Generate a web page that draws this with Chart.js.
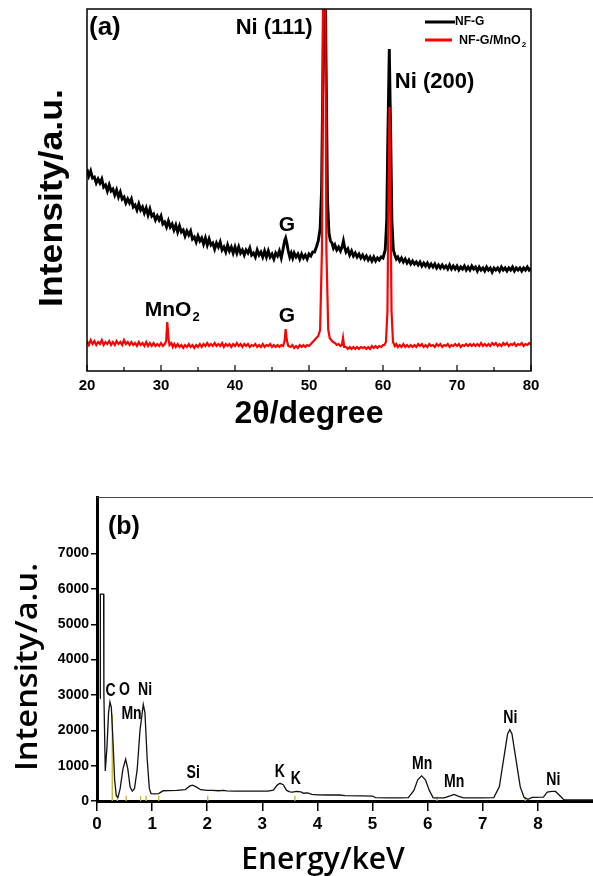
<!DOCTYPE html>
<html><head><meta charset="utf-8">
<script src="https://cdn.jsdelivr.net/npm/chart.js@4.4.0/dist/chart.umd.min.js"></script>
<style>
html,body{margin:0;padding:0;background:#fff;width:593px;height:876px;overflow:hidden}
#wa{position:absolute;left:0;top:0;width:593px;height:460px}
#wb{position:absolute;left:0;top:460px;width:593px;height:416px}
</style></head><body>
<div id="wa"><canvas id="ca"></canvas></div>
<div id="wb"><canvas id="cb"></canvas></div>
<script>
// ---------- (a) XRD data ----------
const xrdTicks = [20, 30, 40, 50, 60, 70, 80];
const ngAngle = [
  20,20.25,20.5,20.75,21,21.25,21.5,21.75,22,22.25,22.5,22.75,23,23.25,23.5,23.75,24,24.25,24.5,24.75,
  25,25.25,25.5,25.75,26,26.25,26.5,26.75,27,27.25,27.5,27.75,28,28.25,28.5,28.75,29,29.25,29.5,29.75,
  30,30.25,30.5,30.75,31,31.25,31.5,31.75,32,32.25,32.5,32.75,33,33.25,33.5,33.75,34,34.25,34.5,34.75,
  35,35.25,35.5,35.75,36,36.25,36.5,36.75,37,37.25,37.5,37.75,38,38.25,38.5,38.75,39,39.25,39.5,39.75,
  40,40.25,40.5,40.75,41,41.25,41.5,41.75,42,42.25,42.5,42.75,43,43.25,43.5,43.75,44,44.25,44.5,44.75,
  45,45.25,45.5,45.75,
  46,46.25,46.5,46.7,46.85,47,47.2,47.4,47.6,47.8,
  48,48.25,48.5,48.75,49,49.25,49.5,49.75,50,50.25,50.5,50.75,
  51,51.25,51.5,51.7,51.9,52.1,52.3,52.5,52.7,52.9,53.1,53.3,53.5,53.75,
  54,54.25,54.5,54.65,54.8,55,55.25,55.5,55.75,
  56,56.25,56.5,56.75,57,57.25,57.5,57.75,58,58.25,58.5,58.75,59,59.25,59.5,59.75,
  60,60.15,60.3,60.5,60.65,60.85,61.05,61.2,61.4,61.6,61.8,
  62,62.25,62.5,62.75,63,63.25,63.5,63.75,64,64.25,64.5,64.75,65,65.25,65.5,65.75,66,66.25,66.5,66.75,
  67,67.25,67.5,67.75,68,68.25,68.5,68.75,69,69.25,69.5,69.75,70,70.25,70.5,70.75,71,71.25,71.5,71.75,
  72,72.25,72.5,72.75,73,73.25,73.5,73.75,74,74.25,74.5,74.75,75,75.25,75.5,75.75,76,76.25,76.5,76.75,
  77,77.25,77.5,77.75,78,78.25,78.5,78.75,79,79.25,79.5,79.75,80
];
const ngInt = [
  202,195,200,193,194,188,192,188,192,184,186,180,186,180,182,176,181,174,179,172,
  174,168,172,168,172,164,166,161,167,161,164,158,163,156,162,155,157,151,155,151,
  155,147,149,144,150,144,147,141,146,139,145,139,141,135,140,136,140,132,134,129,
  135,130,133,127,133,126,132,126,128,122,128,124,129,121,124,119,126,120,124,118,
  124,118,124,118,121,116,121,118,123,116,118,114,121,116,119,114,120,114,120,114,
  117,112,118,115,
  120,113,122,130,133,128,120,114,118,113,
  118,114,117,112,117,113,116,112,117,115,119,119,
  124,130,142,181,311,470,311,171,138,130,128,123,126,121,
  124,120,125,130,124,119,122,116,120,
  115,118,114,117,113,116,112,115,111,114,110,114,110,113,111,114,
  113,117,121,150,230,322,230,150,121,116,112,
  114,110,113,109,112,108,111,107,110,107,109,106,109,105,108,105,108,104,107,104,
  107,103,106,103,106,103,105,102,106,102,105,102,105,101,104,102,105,101,104,101,
  105,102,104,100,104,101,103,100,104,101,103,99,103,101,103,100,104,101,103,100,
  103,101,104,100,103,101,103,100,103,101,104,101,103
];
const mnAngle = [
  20,20.25,20.5,20.75,21,21.25,21.5,21.75,22,22.25,22.5,22.75,23,23.25,23.5,23.75,24,24.25,24.5,24.75,
  25,25.25,25.5,25.75,26,26.25,26.5,26.75,27,27.25,27.5,27.75,28,28.25,28.5,28.75,29,29.25,29.5,29.75,
  30,30.25,30.5,30.7,30.85,31,31.15,31.4,31.6,31.8,
  32,32.25,32.5,32.75,33,33.25,33.5,33.75,34,34.25,34.5,34.75,35,35.25,35.5,35.75,36,36.25,36.5,36.75,
  37,37.25,37.5,37.75,38,38.25,38.5,38.75,39,39.25,39.5,39.75,40,40.25,40.5,40.75,41,41.25,41.5,41.75,
  42,42.25,42.5,42.75,43,43.25,43.5,43.75,44,44.25,44.5,44.75,45,45.25,45.5,45.75,
  46,46.25,46.5,46.7,46.85,47,47.2,47.5,47.75,
  48,48.25,48.5,48.75,49,49.25,49.5,49.75,
  50,50.25,50.5,50.75,51,51.25,51.5,51.75,51.95,52.15,52.35,52.6,52.8,53,53.25,53.5,53.75,
  54,54.25,54.45,54.6,54.75,55,55.25,55.5,55.75,
  56,56.25,56.5,56.75,57,57.25,57.5,57.75,58,58.25,58.5,58.75,59,59.25,59.5,59.75,
  60,60.2,60.4,60.6,60.75,60.88,61,61.15,61.35,61.6,61.8,
  62,62.25,62.5,62.75,63,63.25,63.5,63.75,64,64.25,64.5,64.75,65,65.25,65.5,65.75,66,66.25,66.5,66.75,
  67,67.25,67.5,67.75,68,68.25,68.5,68.75,69,69.25,69.5,69.75,70,70.25,70.5,70.75,71,71.25,71.5,71.75,
  72,72.25,72.5,72.75,73,73.25,73.5,73.75,74,74.25,74.5,74.75,75,75.25,75.5,75.75,76,76.25,76.5,76.75,
  77,77.25,77.5,77.75,78,78.25,78.5,78.75,79,79.25,79.5,79.75,80
];
const mnInt = [
  30,26,31,27,30,26,29,27,31,26,29,27,30,26,29,26,30,27,29,26,
  31,27,29,26,29,26,28,25,29,26,28,25,29,25,28,25,28,25,27,25,
  28,25,27,30,49,33,26,28,24,27,
  24,27,24,26,23,26,24,27,24,26,23,26,24,27,24,27,25,28,25,27,
  25,28,25,27,25,28,24,27,25,27,24,27,25,28,25,27,24,27,25,27,
  24,26,25,27,24,26,24,27,24,26,25,27,24,26,24,26,
  24,26,25,30,42,31,25,24,26,
  23,25,23,26,24,26,24,26,
  25,27,29,31,33,35,41,121,470,470,121,41,33,31,29,28,26,
  27,25,26,33,24,24,22,24,22,
  24,22,24,22,24,23,24,22,24,22,25,23,25,23,25,24,
  26,26,29,60,180,264,180,60,29,25,27,
  24,26,24,27,24,26,24,26,24,26,24,27,25,27,24,26,24,27,25,26,
  24,27,25,27,24,26,25,27,24,26,25,27,25,27,24,26,25,27,25,27,
  25,27,25,27,25,28,25,27,25,27,25,28,26,28,25,27,25,28,26,28,
  25,27,26,28,25,27,26,28,25,27,26,28,26
];

// ---------- (b) EDS data ----------
const edsE = [0.06,0.061,0.12,0.125,0.15,0.18,0.21,0.235,0.26,0.29,0.32,0.35,0.38,0.42,0.47,0.52,0.56,0.6,0.64,0.68,0.73,0.78,0.84,0.87,0.91,0.95,0.98,1.05,1.12,1.16,1.2,1.3,1.45,1.6,1.68,1.73,1.8,1.88,2.0,2.1,2.2,2.3,2.35,2.5,2.8,3.1,3.2,3.27,3.32,3.38,3.44,3.5,3.55,3.62,3.7,3.75,3.82,3.9,4.0,4.2,4.4,4.5,4.8,5.0,5.05,5.3,5.5,5.65,5.75,5.82,5.89,5.96,6.03,6.1,6.3,6.42,6.48,6.55,6.65,7.0,7.2,7.3,7.38,7.45,7.49,7.53,7.6,7.68,7.75,7.82,7.9,8.1,8.17,8.25,8.32,8.4,8.47,8.6,9.0];
const edsC = [2900,5850,5850,3000,850,1500,2500,2800,2650,1700,600,150,100,350,900,1180,900,400,280,350,900,2000,2730,2500,1200,350,210,200,210,250,290,295,300,320,420,450,400,320,300,300,290,300,285,280,280,280,310,450,500,460,300,260,250,270,260,220,230,190,175,170,170,150,145,140,95,90,90,95,300,600,710,600,300,90,90,150,185,140,90,90,95,400,1200,1900,2020,1900,1200,400,100,50,100,110,250,270,270,150,40,30,30];
const markerE = [0.277,0.37,0.53,0.79,0.89,1.12,2.01,3.59,6.17,7.77];
const markerC = [2450,150,150,150,150,150,150,150,120,120];
const edsXTicks = [0,1,2,3,4,5,6,7,8];
const edsYTicks = [0,1000,2000,3000,4000,5000,6000,7000];

const ARIAL = '"Liberation Sans", Arial, Helvetica, sans-serif';
const OPEN = '"Open Sans", "Noto Sans", sans-serif';

function txt(ctx, s, x, y, font, align, base, rot, sx) {
  ctx.save();
  ctx.translate(x, y);
  if (rot) ctx.rotate(rot);
  if (sx) ctx.scale(sx, 1);
  ctx.font = font;
  ctx.textAlign = align || 'center';
  ctx.textBaseline = base || 'middle';
  ctx.fillStyle = '#000';
  ctx.fillText(s, 0, 0);
  ctx.restore();
}
function subTxt(ctx, main, sub, x, y, size, family) {
  ctx.save();
  ctx.fillStyle = '#000';
  ctx.textAlign = 'left';
  ctx.textBaseline = 'alphabetic';
  ctx.font = 'bold ' + size + 'px ' + family;
  ctx.fillText(main, x, y);
  const w = ctx.measureText(main).width;
  ctx.font = 'bold ' + Math.round(size * 0.6) + 'px ' + family;
  ctx.fillText(sub, x + w + 1, y + size * 0.22);
  ctx.restore();
}

// ---------- chart (a) ----------
const frameA = {
  id: 'frameA',
  afterDraw(chart) {
    const ctx = chart.ctx, a = chart.chartArea, xs = chart.scales.x, ys = chart.scales.y;
    ctx.save();
    ctx.strokeStyle = '#000';
    ctx.lineWidth = 1.5;
    ctx.strokeRect(a.left, a.top, a.right - a.left, a.bottom - a.top);
    ctx.lineWidth = 1.2;
    for (let v = 20; v <= 80; v += 5) {
      const px = xs.getPixelForValue(v);
      const len = (v % 10 === 0) ? 6 : 4;
      ctx.beginPath(); ctx.moveTo(px, a.bottom); ctx.lineTo(px, a.bottom - len); ctx.stroke();
    }
    ctx.restore();
    txt(ctx, '(a)', a.left + 2, a.top + 19, 'bold 26px ' + ARIAL, 'left', 'middle');
    txt(ctx, 'Ni (111)', xs.getPixelForValue(50.5), ys.getPixelForValue(343), 'bold 22px ' + ARIAL, 'right', 'middle');
    txt(ctx, 'Ni (200)', xs.getPixelForValue(61.6), ys.getPixelForValue(289), 'bold 22px ' + ARIAL, 'left', 'middle');
    txt(ctx, 'G', xs.getPixelForValue(47.0), ys.getPixelForValue(146), 'bold 21px ' + ARIAL, 'center', 'middle');
    txt(ctx, 'G', xs.getPixelForValue(47.0), ys.getPixelForValue(55), 'bold 21px ' + ARIAL, 'center', 'middle');
    subTxt(ctx, 'MnO', '2', xs.getPixelForValue(27.8), ys.getPixelForValue(55), 21, ARIAL);
    const lx = a.right - 106;
    ctx.save();
    ctx.lineWidth = 3;
    ctx.strokeStyle = '#000';
    ctx.beginPath(); ctx.moveTo(lx, a.top + 13); ctx.lineTo(lx + 30, a.top + 13); ctx.stroke();
    ctx.strokeStyle = '#ff0000';
    ctx.beginPath(); ctx.moveTo(lx, a.top + 31); ctx.lineTo(lx + 27, a.top + 31); ctx.stroke();
    ctx.restore();
    txt(ctx, 'NF-G', lx + 30, a.top + 13, 'bold 12px ' + ARIAL, 'left', 'middle');
    subTxt(ctx, 'NF-G/MnO', '2', lx + 34, a.top + 35, 12.5, ARIAL);
    txt(ctx, '2\u03b8/degree', (a.left + a.right) / 2, 414, 'bold 32px ' + ARIAL, 'center', 'middle');
    txt(ctx, 'Intensity/a.u.', 53, 198, 'bold 33px ' + ARIAL, 'center', 'middle', -Math.PI / 2, 1.08);
  }
};

new Chart(document.getElementById('ca'), {
  type: 'line',
  data: {
    datasets: [
      { label: 'NF-G/MnO2', data: mnAngle.map((a, i) => ({ x: a, y: mnInt[i] })), borderColor: '#ff0000', borderWidth: 2.2, pointRadius: 0, tension: 0, order: 0 },
      { label: 'NF-G', data: ngAngle.map((a, i) => ({ x: a, y: ngInt[i] })), borderColor: '#000', borderWidth: 2.9, pointRadius: 0, tension: 0, order: 1 }
    ]
  },
  options: {
    responsive: true, maintainAspectRatio: false, animation: false,
    layout: { padding: { top: 9, right: 62, left: 0, bottom: 0 } },
    plugins: { legend: { display: false }, tooltip: { enabled: false } },
    scales: {
      x: {
        type: 'linear', min: 20, max: 80,
        afterBuildTicks(s) { s.ticks = xrdTicks.map(v => ({ value: v })); },
        ticks: { color: '#000', font: { family: ARIAL, weight: 'bold', size: 15 }, padding: 6, maxRotation: 0 },
        grid: { display: false, drawTicks: false }, border: { display: false },
        afterFit(s) { s.height = 89; }
      },
      y: {
        min: 0, max: 362,
        ticks: { display: false }, grid: { display: false, drawTicks: false }, border: { display: false },
        afterFit(s) { s.width = 87; }
      }
    }
  },
  plugins: [frameA]
});

// ---------- chart (b) ----------
const frameB = {
  id: 'frameB',
  afterDraw(chart) {
    const ctx = chart.ctx, a = chart.chartArea, xs = chart.scales.x, ys = chart.scales.y;
    ctx.save();
    ctx.strokeStyle = '#444';
    ctx.lineWidth = 1;
    ctx.beginPath(); ctx.moveTo(a.left, a.top + 0.5); ctx.lineTo(a.right, a.top + 0.5); ctx.stroke();
    ctx.restore();
    txt(ctx, '(b)', a.left + 11, a.top + 30, 'bold 25px ' + ARIAL, 'left', 'middle');
    const lab = [
      ['C', 0.245, 3116], ['O', 0.50, 3145], ['Ni', 0.873, 3145], ['Mn', 0.627, 2465],
      ['Si', 1.745, 793], ['K', 3.318, 822], ['K', 3.61, 623], ['Mn', 5.9, 1048],
      ['Mn', 6.48, 538], ['Ni', 7.5, 2351], ['Ni', 8.28, 595]
    ];
    for (const [t, e, c] of lab) {
      txt(ctx, t, xs.getPixelForValue(e), ys.getPixelForValue(c), 'bold 19px ' + ARIAL, 'center', 'middle', 0, 0.74);
    }
    txt(ctx, 'Energy/keV', 323, 400, '600 30px ' + OPEN, 'center', 'middle');
    txt(ctx, 'Intensity/a.u.', 28, 207, '600 31px ' + OPEN, 'center', 'middle', -Math.PI / 2, 1.05);
  }
};

const markerData = [];
markerE.forEach((e, i) => { markerData.push({ x: e, y: 0 }, { x: e, y: markerC[i] }, { x: e, y: null }); });

new Chart(document.getElementById('cb'), {
  type: 'line',
  data: {
    datasets: [
      { label: 'spectrum', data: edsE.map((e, i) => ({ x: e, y: edsC[i] })), borderColor: '#111', borderWidth: 1.3, pointRadius: 0, tension: 0, order: 0 },
      { label: 'markers', data: markerData, borderColor: '#c9b52e', borderWidth: 1.3, pointRadius: 0, spanGaps: false, order: 1 }
    ]
  },
  options: {
    responsive: true, maintainAspectRatio: false, animation: false,
    layout: { padding: { top: 37, right: 0, left: 0, bottom: 0 } },
    plugins: { legend: { display: false }, tooltip: { enabled: false } },
    scales: {
      x: {
        type: 'linear', min: 0, max: 9,
        afterBuildTicks(s) { s.ticks = edsXTicks.map(v => ({ value: v })); },
        ticks: { color: '#000', font: { family: ARIAL, weight: 'bold', size: 17 }, padding: 3, maxRotation: 0, callback: v => String(v) },
        grid: { display: true, drawOnChartArea: false, drawTicks: true, tickLength: 10, color: '#000', lineWidth: 1.5 },
        border: { display: true, color: '#000', width: 3 },
        afterFit(s) { s.height = 75; }
      },
      y: {
        min: 0, max: 8600,
        afterBuildTicks(s) { s.ticks = edsYTicks.map(v => ({ value: v })); },
        ticks: { color: '#000', font: { family: ARIAL, weight: 'bold', size: 14 }, padding: 2, callback: v => String(v) },
        grid: { display: true, drawOnChartArea: false, drawTicks: true, tickLength: 6, color: '#000', lineWidth: 1.5 },
        border: { display: true, color: '#000', width: 3 },
        afterFit(s) { s.width = 97; }
      }
    }
  },
  plugins: [frameB]
});
</script>
</body></html>
